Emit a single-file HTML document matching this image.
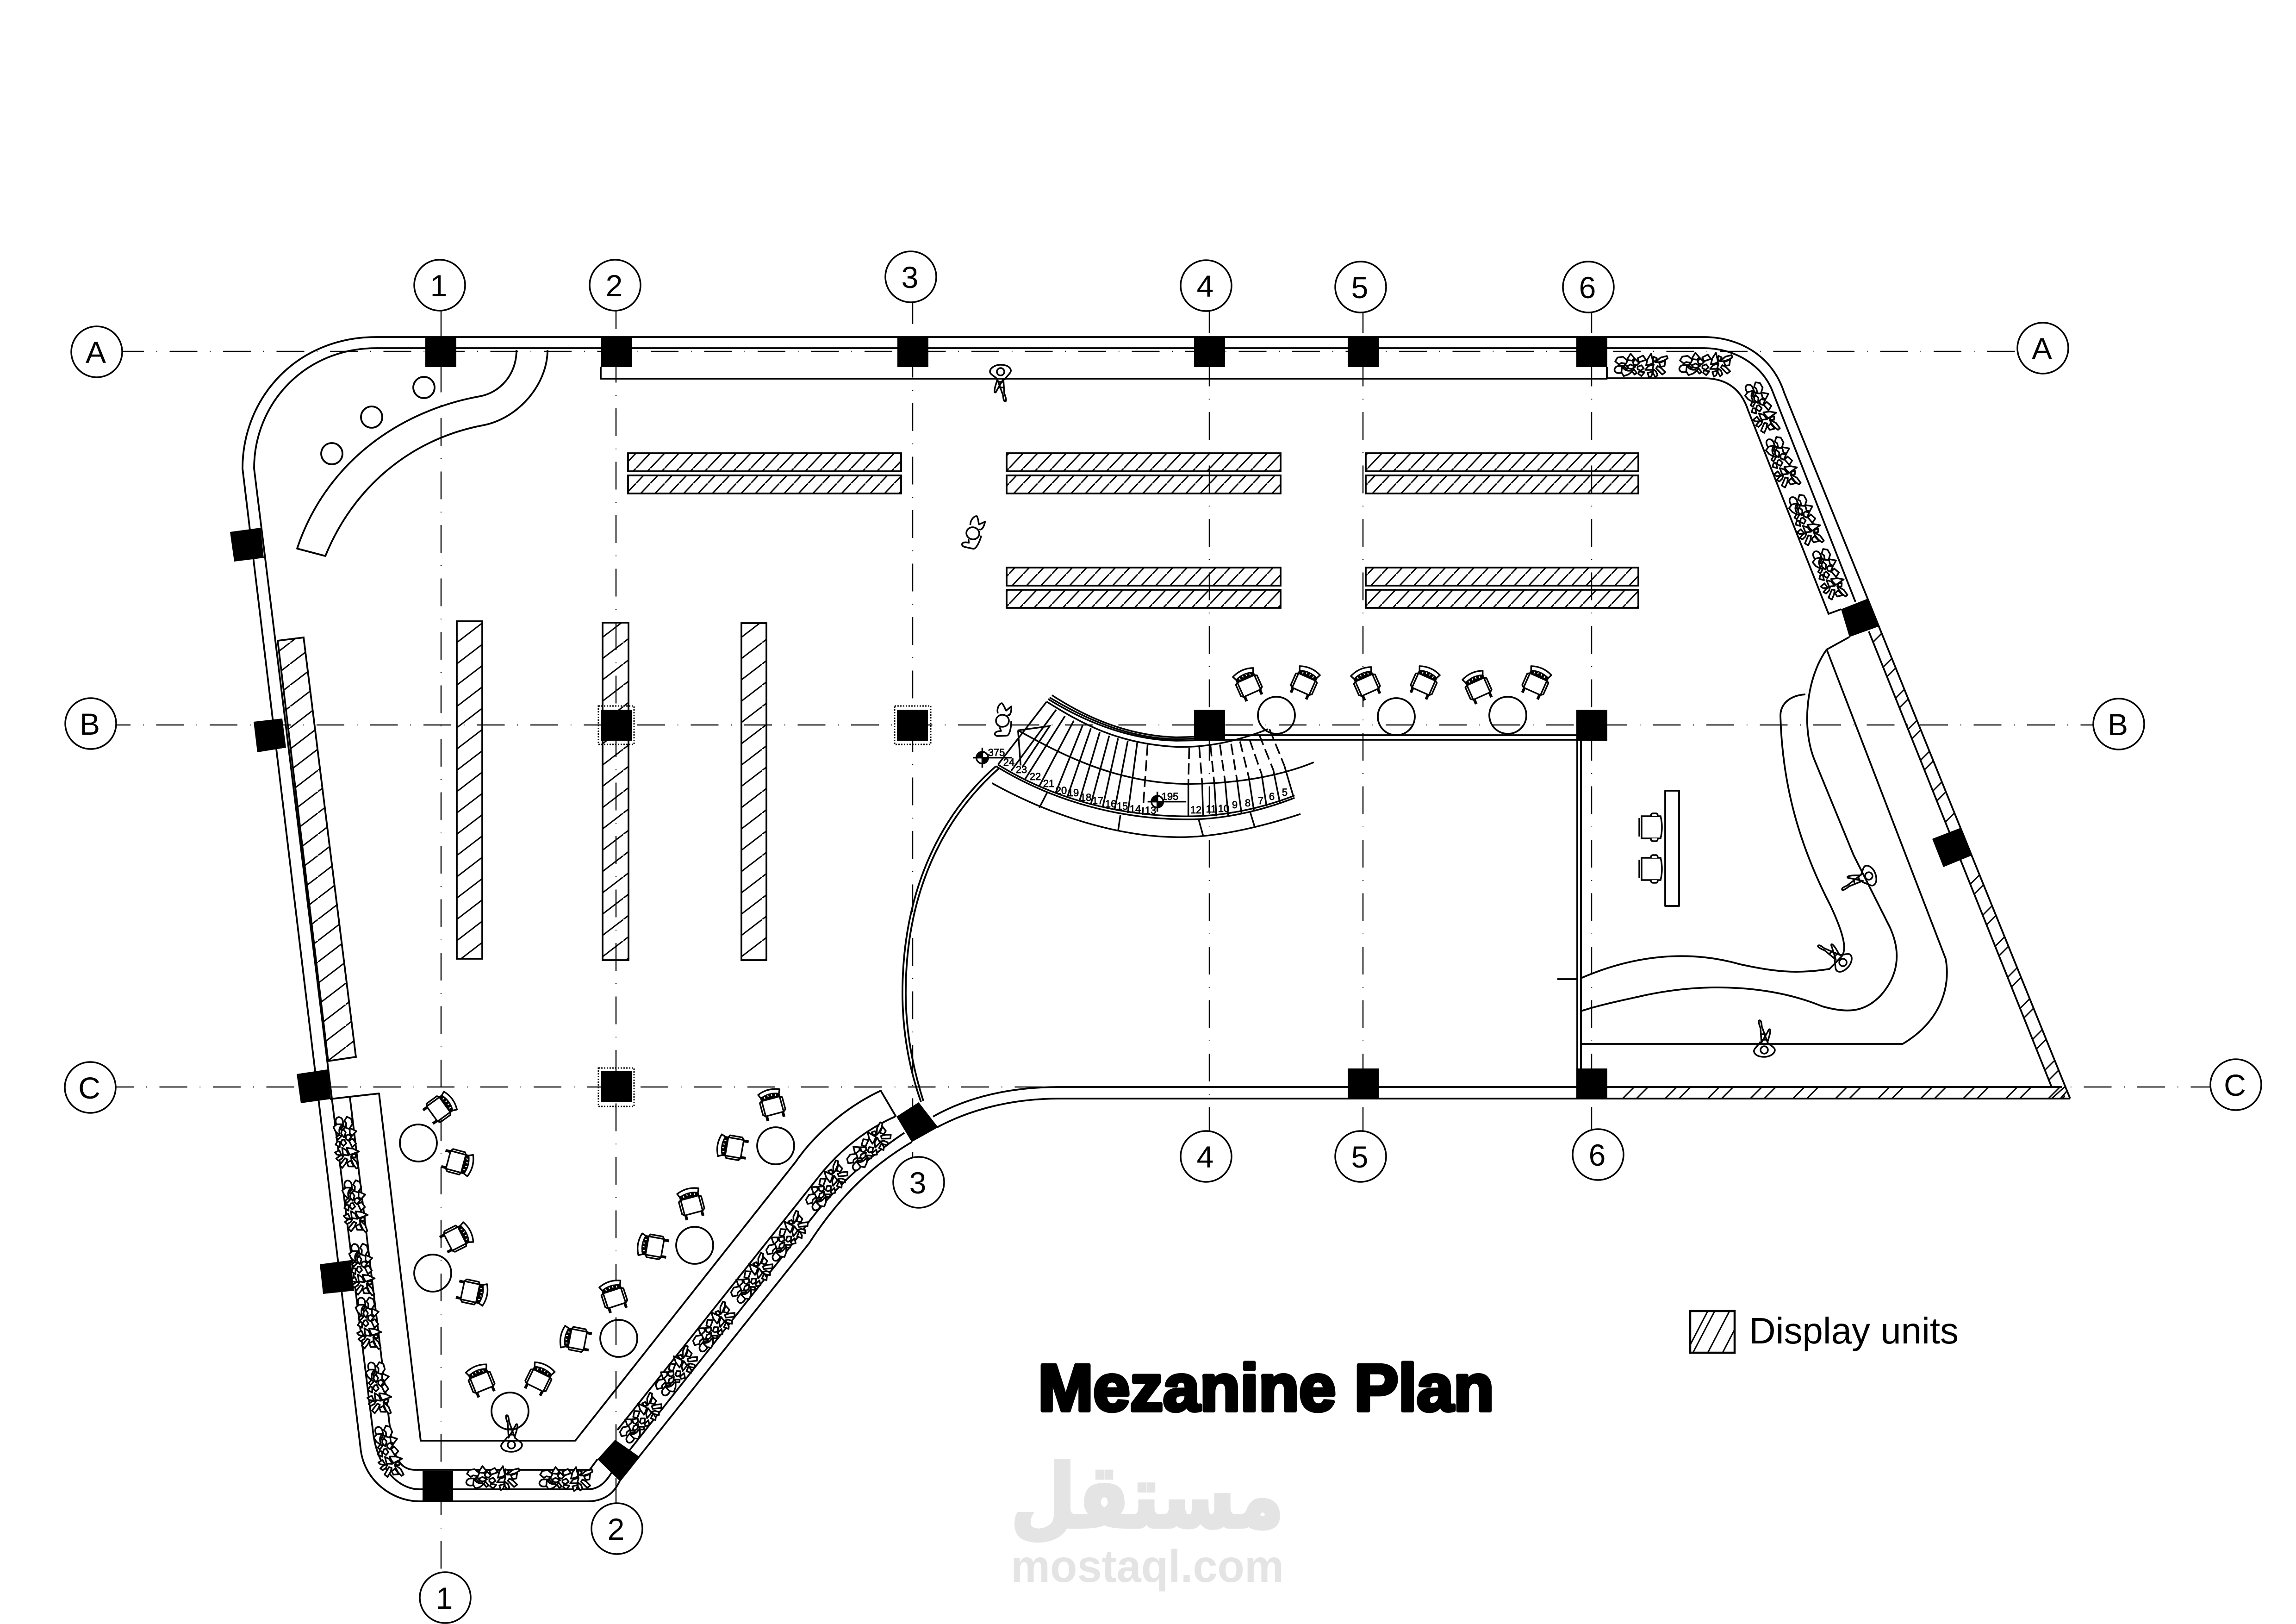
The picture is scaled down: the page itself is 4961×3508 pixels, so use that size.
<!DOCTYPE html>
<html><head><meta charset="utf-8"><title>Mezanine Plan</title>
<style>html,body{margin:0;padding:0;background:#fff}svg{display:block}text{font-family:"Liberation Sans","DejaVu Sans",sans-serif}</style></head>
<body>
<svg xmlns="http://www.w3.org/2000/svg" width="4961" height="3508" viewBox="0 0 4961 3508">
<defs>
<pattern id="h" width="31" height="32.6" patternUnits="userSpaceOnUse" patternTransform="translate(1374,979)"><path d="M-5,37.9L36,-5.3" stroke="#000" stroke-width="3" fill="none"/></pattern>
<pattern id="hv" width="60" height="46" patternUnits="userSpaceOnUse" patternTransform="translate(987,1342)"><path d="M-5,49.8L65,-3.8" stroke="#000" stroke-width="3" fill="none"/></pattern>
<pattern id="bh" width="92" height="25" patternUnits="userSpaceOnUse" patternTransform="translate(3506,2348)"><path d="M-3,28L28,-3M27,28L58,-3" stroke="#000" stroke-width="3" fill="none"/></pattern>
<g id="chair" fill="#fff" stroke="#000" stroke-width="3.4" stroke-linejoin="round">
<path d="M20,-15L25,-12L25,15L20,19M-20,-15L-25,-12L-25,15L-20,19" fill="none"/>
<path d="M-20,-15L20,-15L20,19L-20,19Z"/>
<path d="M-24,-30Q0,-40 24,-30L20,-21Q0,-29 -20,-21Z"/>
<path d="M-20,-21Q0,-29 20,-21L20,-15Q0,-20 -20,-15Z" fill="#000"/>
<path d="M-12,-22V-18M-4,-24V-20M4,-24V-20M12,-22V-18" stroke="#fff" stroke-width="2" fill="none"/>
<path d="M-18,19V30M18,19V30" fill="none" stroke-width="6"/>
</g>
<g id="ochair" fill="#fff" stroke="#000" stroke-width="3.5">
<path d="M-22,-20V20M-17,-24V24" fill="none"/>
<path d="M-17,-24H24Q30,0 24,24H-17Z"/>
<path d="M3,-24Q3,-30 8,-30H14Q18,-30 18,-24M3,24Q3,30 8,30H14Q18,30 18,24"/>
</g>
<g id="plant" transform="scale(.33333) translate(-190,-145)" fill="#fff" stroke="#000" stroke-width="10.5" stroke-linejoin="round">
<path d="M25,120L40,95L75,90L105,115L95,135L65,130L50,140Z"/>
<path d="M20,175Q25,150 50,150L75,150L85,185L60,195Q25,200 20,175Z"/>
<path d="M70,150Q85,185 125,180L135,185L110,205L80,215L65,190Z"/>
<path d="M100,110L125,70L150,100L135,115Z"/>
<path d="M90,140L110,165L100,170L80,150Z"/>
<path d="M105,150L125,140L155,155L130,170L110,165Z"/>
<path d="M140,125L155,105L180,130L165,145L145,140Z"/>
<path d="M170,100L205,82L225,110L195,120L180,125Z"/>
<path d="M170,155L195,145L210,165L190,180L170,170Z"/>
<path d="M145,170L165,195L150,205L135,185Z"/>
<path d="M180,185L215,190L195,215L175,200Z"/>
<path d="M225,145L235,105L258,70L272,130L250,140Z"/>
<path d="M220,175L240,150L275,140L265,175Z"/>
<path d="M275,90L295,100L285,125L270,110Z"/>
<path d="M285,125L320,95L360,85L365,100L340,115L305,125Z"/>
<path d="M310,130L350,115L345,150L320,155Z"/>
<path d="M300,150L325,165L350,190L330,205L290,165Z"/>
<path d="M270,170L290,185L300,210L285,222L270,195Z"/>
<path d="M235,195L270,185L260,215L245,225Z"/>
</g>
<g id="person" fill="none" stroke="#000" stroke-width="3.5" stroke-linejoin="round">
<circle cx="0" cy="22" r="8"/>
<path d="M-8,4C-14,14 -24,20 -22,26C-20,34 -10,37 0,37C12,37 23,30 23,22C23,16 12,12 7,6"/>
<path d="M-6,6L-8,-25C-12,-35 -13,-42 -10,-42C-6,-42 -6,-34 -5,-28L8,8"/>
<path d="M-7,8L8,-18C10,-24 13,-24 13,-20C13,-10 9,-4 7,6"/>
<path d="M-6,-12L6,-12M-5,0L5,0"/>
</g>
<g id="sit" fill="none" stroke="#000" stroke-width="3.5" stroke-linejoin="round">
<ellipse cx="0" cy="0" rx="14" ry="13"/>
<path d="M-10,-16C-13,-28 -6,-38 -1,-38C5,-31 6,-24 8,-22L19,-31C20,-19 16,-9 11,-13M-6,14L-3,22C-19,22 -20,32 -10,33L10,32C16,30 19,14 19,0"/>
</g>
</defs>

<!-- grid -->
<g stroke="#000" stroke-width="2.5" stroke-dasharray="60 27 1.5 27" fill="none">
<path d="M263,759H4360" stroke-dashoffset="12"/>
<path d="M250,1566H4525" stroke-dashoffset="28"/>
<path d="M248,2348H4776" stroke-dashoffset="19"/>
<path d="M953,672V3396"/>
<path d="M1331,672V3247" stroke-dashoffset="21"/>
<path d="M1972,653V2500" stroke-dashoffset="13"/>
<path d="M2613,672V2443" stroke-dashoffset="13"/>
<path d="M2945,675V2443" stroke-dashoffset="16"/>
<path d="M3439,675V2439" stroke-dashoffset="16"/>
</g>

<!-- walls -->
<g fill="none" stroke="#000" stroke-width="3.8" stroke-linejoin="round">
<path d="M813,728C640,728 524,860 524,1012L779,3128C786,3200 850,3243 906,3243L1270,3243C1300,3243 1325,3230 1339,3199L1748,2686C1810,2590 1880,2520 1970,2467"/>
<path d="M813,752C660,752 549,870 549,1012L806,3093C815,3170 860,3217 906,3217L1270,3217C1295,3217 1310,3200 1322,3180"/>
<path d="M1356,3138L1724,2672C1780,2590 1860,2510 1954,2447"/>
<path d="M756,2370L842,3079C848,3140 860,3175 897,3175L1274,3175L1291,3152"/>
<path d="M1334,3089L1772,2538C1815,2485 1870,2440 1934,2412"/>
<path d="M713,2374L819,2362L909,3112L1243,3112L1719,2510C1760,2450 1830,2390 1903,2356L1936,2412"/>
<path d="M2016,2412C2090,2370 2180,2348 2290,2348L4456,2348"/>
<path d="M2025,2435C2100,2395 2190,2373 2290,2373L4473,2373"/>
<path d="M813,728L3681,728C3760,728 3830,770 3855,848L4473,2373"/>
<path d="M813,752L3681,752C3750,752 3810,790 3831,848L4009,1300"/>
<path d="M4038,1364L4433,2348"/>
<path d="M3472,817L3681,817C3730,817 3762,840 3777,886L3951,1326L3978,1316"/>
<path d="M1298,792V818H3472V793"/>
<path d="M1116,756C1116,810 1080,848 1037,856C850,890 700,1010 642,1185L703,1201C760,1060 880,950 1042,919C1120,905 1183,830 1183,756"/>
<circle cx="916" cy="837" r="23"/><circle cx="803" cy="901" r="23"/><circle cx="717" cy="980" r="23"/>
<path d="M2647,1588H3406M2647,1598H3406"/>
<path d="M3408,1600V2310M3416,1600V2310M3365,2115H3408"/>
<path d="M2152,1655C2095,1705 1950,1850 1950,2145C1950,2230 1965,2310 1990,2380"/>
<path d="M2158,1660C2100,1712 1957,1855 1957,2145C1957,2225 1972,2305 1995,2378"/>
<!-- ramps -->
<path d="M3901,1500C3868,1502 3847,1520 3847,1546C3851,1700 3890,1830 3955,1956C3985,2020 3990,2050 3980,2065L3963,2083L3953,2093C3880,2105 3830,2098 3760,2083C3680,2060 3560,2050 3416,2113"/>
<path d="M3947,1403C3905,1460 3890,1570 3922,1645L4005,1847L4083,2002C4110,2060 4100,2110 4063,2151C4030,2185 3995,2190 3938,2174C3831,2130 3690,2120 3549,2151C3500,2162 3460,2170 3416,2184"/>
<path d="M3996,1376L3947,1403L4204,2071C4215,2130 4195,2205 4111,2255H3416"/>
<!-- desk -->
<rect x="3598" y="1708" width="30" height="249"/>
<!-- tables -->
<circle cx="2758" cy="1545" r="40"/><circle cx="3017" cy="1548" r="40"/><circle cx="3258" cy="1545" r="40"/>
<circle cx="904" cy="2469" r="40"/><circle cx="935" cy="2750" r="40"/><circle cx="1337" cy="2891" r="40"/><circle cx="1501" cy="2690" r="40"/><circle cx="1676" cy="2475" r="40"/><circle cx="1102" cy="3048" r="40"/>
</g>
<!-- wall hatch -->
<rect x="3472" y="2348" width="990" height="25" fill="url(#bh)"/>
<path fill="none" stroke="#000" stroke-width="3" d="M4433,2373L4461,2348M4452,2373L4465,2358M4047,1387l20,-20M4069,1441l20,-20M4077,1462l20,-20M4096,1508l20,-20M4104,1529l20,-20M4123,1575l20,-20M4131,1596l20,-20M4150,1642l20,-20M4158,1663l20,-20M4176,1709l20,-20M4185,1730l20,-20M4203,1776l20,-20M4257,1910l20,-20M4266,1931l20,-20M4284,1977l20,-20M4292,1998l20,-20M4311,2044l20,-20M4319,2065l20,-20M4338,2111l20,-20M4346,2132l20,-20M4365,2178l20,-20M4373,2199l20,-20M4392,2245l20,-20M4400,2266l20,-20M4418,2312l20,-20M4427,2333l20,-20"/>

<!-- display units -->
<g fill="url(#h)" stroke="#000" stroke-width="3.8">
<rect x="1357" y="979" width="590" height="39"/><rect x="1357" y="1027" width="590" height="39"/>
<rect x="2175" y="979" width="592" height="39"/><rect x="2175" y="1027" width="592" height="39"/>
<rect x="2951" y="979" width="589" height="39"/><rect x="2951" y="1027" width="589" height="39"/>
<rect x="2175" y="1226" width="592" height="39"/><rect x="2175" y="1274" width="592" height="39"/>
<rect x="2951" y="1226" width="589" height="39"/><rect x="2951" y="1274" width="589" height="39"/>
</g>
<g fill="url(#hv)" stroke="#000" stroke-width="3.8">
<rect x="987" y="1342" width="55" height="729"/><rect x="1302" y="1345" width="56" height="729"/><rect x="1602" y="1346" width="54" height="728"/>
<polygon points="600,1384 656,1377 769,2283 709,2292"/>
</g>

<!-- stairs -->
<g transform="translate(2000,1400) scale(.6378,.33333)" fill="none" stroke="#000" stroke-width="3.5">
<path vector-effect="non-scaling-stroke" d="M428,305C560,470 700,570 850,578L910,575"/>
<path vector-effect="non-scaling-stroke" d="M420,320C560,480 700,585 850,590L910,587"/>
<path vector-effect="non-scaling-stroke" d="M415,330C550,490 700,595 850,600L910,598"/>
<path vector-effect="non-scaling-stroke" d="M410,347C530,490 650,620 850,640C960,645 1060,600 1160,525"/>
<path vector-effect="non-scaling-stroke" d="M245,755C400,940 620,1090 890,1090C1020,1090 1150,1030 1250,955"/>
<path vector-effect="non-scaling-stroke" d="M238,765C400,955 620,1110 890,1110C1020,1110 1150,1045 1250,970"/>
<path vector-effect="non-scaling-stroke" d="M225,875C380,1040 620,1225 860,1225C1000,1225 1150,1150 1270,1075"/>
<path vector-effect="non-scaling-stroke" d="M315,535C460,690 650,880 890,880C1050,880 1200,830 1315,740"/>
<path vector-effect="non-scaling-stroke" d="M410,347L245,755M442,400L290,795M472,440L335,855M502,470L385,895M532,500L440,940M560,520L480,965M590,545L522,985M622,568L560,1010M652,585L600,1030M685,600L640,1050M717,612L685,1070"/>
<path vector-effect="non-scaling-stroke" d="M890,880L890,1095M937,880L940,1090M978,878L985,1090M1015,870L1025,1085M1055,855L1070,1070M1095,838L1112,1050M1138,815L1155,1025M1178,790L1200,1000M1215,760L1245,955"/>
<path vector-effect="non-scaling-stroke" stroke-dasharray="24 10" d="M752,625L735,1080M893,645L890,880M927,640L937,880M965,630L978,878M997,625L1015,870M1035,620L1055,855M1065,605L1095,838M1097,590L1138,815M1130,560L1178,790M1165,525L1215,760"/>
<path vector-effect="non-scaling-stroke" d="M412,935L385,1035M660,1080L652,1185M925,1110L940,1215M1100,1065L1115,1160"/>
<path vector-effect="non-scaling-stroke" d="M313,533L420,505L328,770M313,533L322,760"/>
<path vector-effect="non-scaling-stroke" d="M160,710H292M192,645V775M752,995H883M785,930V1060"/>
<ellipse vector-effect="non-scaling-stroke" cx="192" cy="710" rx="20" ry="38"/>
<ellipse vector-effect="non-scaling-stroke" cx="785" cy="995" rx="20" ry="38"/>
</g>
<path d="M2122,1624A13,13 0 0 0 2109,1637H2122ZM2122,1650A13,13 0 0 0 2135,1637H2122ZM2501,1719A13,13 0 0 0 2488,1732H2501ZM2501,1745A13,13 0 0 0 2514,1732H2501Z" fill="#000"/>
<g font-size="22" text-anchor="middle" fill="#000" stroke="#000" stroke-width=".8">
<text x="2153" y="1633">375</text><text x="2528" y="1728">195</text>
<text x="2180" y="1654">24</text><text x="2207" y="1670">23</text><text x="2237" y="1685">22</text><text x="2266" y="1700">21</text><text x="2293" y="1715">20</text><text x="2319" y="1720">19</text><text x="2346" y="1730">18</text><text x="2372" y="1737">17</text><text x="2400" y="1744">16</text><text x="2425" y="1749">15</text><text x="2453" y="1755">14</text><text x="2486" y="1758">13</text><text x="2584" y="1757">12</text><text x="2617" y="1755">11</text><text x="2644" y="1754">10</text><text x="2668" y="1746">9</text><text x="2696" y="1742">8</text><text x="2724" y="1737">7</text><text x="2748" y="1728">6</text><text x="2776" y="1719">5</text>
</g>

<!-- chairs -->
<use href="#chair" transform="translate(2698,1480) rotate(-24)"/>
<use href="#chair" transform="translate(2818,1476) rotate(24)"/>
<use href="#chair" transform="translate(2953,1478) rotate(-24)"/>
<use href="#chair" transform="translate(3077,1476) rotate(24)"/>
<use href="#chair" transform="translate(3194,1486) rotate(-24)"/>
<use href="#chair" transform="translate(3318,1476) rotate(24)"/>
<use href="#chair" transform="translate(949,2395) rotate(54)"/>
<use href="#chair" transform="translate(987,2510) rotate(105)"/>
<use href="#chair" transform="translate(985,2675) rotate(63)"/>
<use href="#chair" transform="translate(1018,2791) rotate(102)"/>
<use href="#chair" transform="translate(1040,2984) rotate(-22)"/>
<use href="#chair" transform="translate(1164,2980) rotate(26)"/>
<use href="#chair" transform="translate(1327,2802) rotate(-18)"/>
<use href="#chair" transform="translate(1246,2893) rotate(-79)"/>
<use href="#chair" transform="translate(1494,2602) rotate(-15)"/>
<use href="#chair" transform="translate(1413,2693) rotate(-80)"/>
<use href="#chair" transform="translate(1669,2388) rotate(-15)"/>
<use href="#chair" transform="translate(1585,2479) rotate(-80)"/>
<use href="#ochair" transform="translate(3564,1787)"/>
<use href="#ochair" transform="translate(3564,1877)"/>

<!-- plants -->
<use href="#plant" transform="translate(3545,789)"/>
<use href="#plant" transform="translate(3685,787)"/>
<use href="#plant" transform="translate(3806,880) rotate(68)"/>
<use href="#plant" transform="translate(3851,998) rotate(68)"/>
<use href="#plant" transform="translate(3901,1123) rotate(68)"/>
<use href="#plant" transform="translate(3952,1240) rotate(68)"/>
<use href="#plant" transform="translate(748,2468) rotate(83)"/>
<use href="#plant" transform="translate(767,2605) rotate(83)"/>
<use href="#plant" transform="translate(782,2742) rotate(83)"/>
<use href="#plant" transform="translate(796,2858) rotate(83)"/>
<use href="#plant" transform="translate(818,2998) rotate(83)"/>
<use href="#plant" transform="translate(839,3135) rotate(76)"/>
<use href="#plant" transform="translate(1064,3192)"/>
<use href="#plant" transform="translate(1222,3194)"/>
<use href="#plant" transform="translate(1877,2479) rotate(-46)"/>
<use href="#plant" transform="translate(1786,2563) rotate(-51)"/>
<use href="#plant" transform="translate(1700,2672) rotate(-51)"/>
<use href="#plant" transform="translate(1624,2763) rotate(-51)"/>
<use href="#plant" transform="translate(1542,2868) rotate(-51)"/>
<use href="#plant" transform="translate(1461,2963) rotate(-51)"/>
<use href="#plant" transform="translate(1384,3065) rotate(-51)"/>

<!-- people -->
<use href="#person" transform="translate(3812,2246)"/>
<use href="#person" transform="translate(1105,3099)"/>
<use href="#person" transform="translate(2162,825) rotate(180)"/>
<use href="#person" transform="translate(4017,1899) rotate(-108)"/>
<use href="#person" transform="translate(3966,2064) rotate(-47)"/>
<use href="#sit" transform="translate(2166,1557)"/>
<use href="#sit" transform="translate(2102,1152) rotate(15)"/>

<!-- columns -->
<g fill="#000">
<rect x="919" y="727" width="67" height="66"/><rect x="1298" y="727" width="67" height="66"/><rect x="1939" y="727" width="67" height="66"/><rect x="2580" y="727" width="67" height="66"/><rect x="2912" y="727" width="67" height="66"/><rect x="3406" y="727" width="67" height="66"/>
<rect x="1298" y="1533" width="67" height="67"/><rect x="1938" y="1533" width="67" height="67"/><rect x="2580" y="1533" width="67" height="67"/><rect x="3406" y="1533" width="67" height="67"/>
<rect x="1298" y="2314" width="67" height="67"/><rect x="2912" y="2308" width="67" height="66"/><rect x="3406" y="2308" width="67" height="66"/>
<rect x="913" y="3178" width="66" height="65"/>
<polygon points="497,1149 563,1140 570,1205 506,1213"/>
<polygon points="548,1559 610,1552 618,1615 556,1625"/>
<polygon points="641,2320 708,2310 715,2374 650,2383"/>
<polygon points="691,2731 758,2722 765,2788 698,2795"/>
<polygon points="1329,3110 1382,3147 1339,3199 1291,3152"/>
<polygon points="1985,2381 2027,2435 1970,2467 1937,2412"/>
<polygon points="4036,1293 4060,1353 3996,1376 3978,1316"/>
<polygon points="4237,1788 4260,1848 4199,1873 4175,1812"/>
</g>
<g fill="none" stroke="#000" stroke-width="3" stroke-dasharray="3 3">
<rect x="1293" y="1525" width="77" height="83"/><rect x="1933" y="1525" width="78" height="83"/><rect x="1293" y="2307" width="77" height="83"/>
</g>

<!-- grid bubbles -->
<g fill="#fff" stroke="#000" stroke-width="3.5">
<circle cx="209" cy="760" r="55"/><circle cx="4414" cy="752" r="55"/>
<circle cx="196" cy="1563" r="55"/><circle cx="4578" cy="1564" r="55"/>
<circle cx="195" cy="2349" r="55"/><circle cx="4831" cy="2343" r="55"/>
<circle cx="950" cy="616" r="55"/><circle cx="1329" cy="616" r="55"/><circle cx="1968" cy="598" r="55"/><circle cx="2606" cy="617" r="55"/><circle cx="2940" cy="620" r="55"/><circle cx="3432" cy="620" r="55"/>
<circle cx="962" cy="3451" r="55"/><circle cx="1333" cy="3302" r="55"/><circle cx="1985" cy="2554" r="55"/><circle cx="2606" cy="2498" r="55"/><circle cx="2940" cy="2498" r="55"/><circle cx="3453" cy="2494" r="55"/>
</g>
<g font-size="66" text-anchor="middle" fill="#000">
<text x="207" y="784">A</text><text x="4412" y="776">A</text>
<text x="194" y="1587">B</text><text x="4576" y="1588">B</text>
<text x="193" y="2373">C</text><text x="4829" y="2367">C</text>
<text x="948" y="640">1</text><text x="1327" y="640">2</text><text x="1966" y="622">3</text><text x="2604" y="641">4</text><text x="2938" y="644">5</text><text x="3430" y="644">6</text>
<text x="960" y="3475">1</text><text x="1331" y="3326">2</text><text x="1983" y="2578">3</text><text x="2604" y="2522">4</text><text x="2938" y="2522">5</text><text x="3451" y="2518">6</text>
</g>

<!-- legend and title -->
<rect x="3652" y="2832" width="96" height="90" fill="#fff" stroke="#000" stroke-width="4.5"/>
<path d="M3652,2905L3690,2832M3658,2922L3705,2832M3690,2922L3737,2832M3722,2922L3748,2872" fill="none" stroke="#000" stroke-width="3"/>
<text x="3779" y="2902" font-size="80" textLength="453" lengthAdjust="spacingAndGlyphs" fill="#000">Display units</text>
<text x="2243" y="3047" font-size="143" font-weight="bold" textLength="985" lengthAdjust="spacingAndGlyphs" fill="#000" stroke="#000" stroke-width="8" stroke-linejoin="round">Mezanine Plan</text>

<!-- watermark -->
<text x="2184" y="3298" font-size="188" font-weight="bold" textLength="590" lengthAdjust="spacingAndGlyphs" fill="#e4e4e4" stroke="#e4e4e4" stroke-width="8" style="font-family:'DejaVu Sans',sans-serif" direction="rtl" text-anchor="start" dx="590">مستقل</text>
<text x="2184" y="3417" font-size="98" font-weight="bold" textLength="590" lengthAdjust="spacingAndGlyphs" fill="#e4e4e4">mostaql.com</text>
</svg>
</body></html>
